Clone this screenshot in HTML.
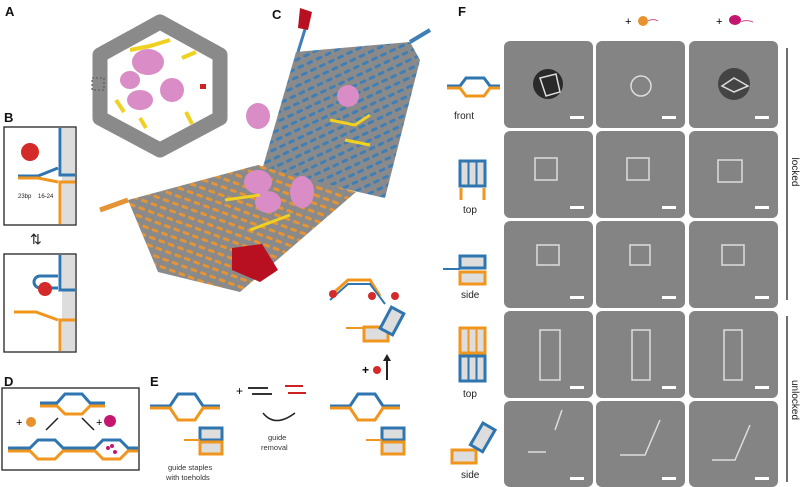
<!DOCTYPE html>
<html><head><meta charset="utf-8"><style>
html,body{margin:0;padding:0;background:#fff;}
svg{display:block;font-family:"Liberation Sans",sans-serif;}
</style></head><body>
<svg width="800" height="487" viewBox="0 0 800 487" xmlns="http://www.w3.org/2000/svg">
<defs>
<pattern id="bl" width="10" height="8" patternUnits="userSpaceOnUse" patternTransform="rotate(-25)">
<rect width="10" height="8" fill="#8a8a8a"/><rect x="1" y="2" width="7" height="3" rx="1.5" fill="#3f7fb5"/></pattern>
<pattern id="or" width="10" height="8" patternUnits="userSpaceOnUse" patternTransform="rotate(20)">
<rect width="10" height="8" fill="#8a8a8a"/><rect x="1" y="2" width="7" height="3" rx="1.5" fill="#e59435"/></pattern>
</defs>
<g font-weight="bold" font-size="13" fill="#111">
<text x="5" y="16">A</text><text x="4" y="122">B</text><text x="272" y="19">C</text>
<text x="4" y="386">D</text><text x="150" y="386">E</text><text x="458" y="16">F</text>
</g>
<!-- A -->
<polygon points="160,22 220,55 220,118 160,150 100,118 100,55" fill="none" stroke="#8a8a8a" stroke-width="15" stroke-linejoin="round"/>
<g fill="#d98cc6"><ellipse cx="148" cy="62" rx="16" ry="13"/><ellipse cx="130" cy="80" rx="10" ry="9"/><ellipse cx="172" cy="90" rx="12" ry="12"/><ellipse cx="140" cy="100" rx="13" ry="10"/></g>
<g stroke="#f0d020" stroke-width="4" fill="none"><path d="M130,50 L150,46 170,40"/><path d="M182,58 L196,52"/><path d="M116,100 L124,112"/><path d="M186,112 L192,124"/><path d="M140,118 L146,128"/></g>
<rect x="92" y="78" width="12" height="12" fill="none" stroke="#555" stroke-dasharray="2,2"/>
<rect x="200" y="84" width="6" height="5" fill="#c22"/>
<!-- B -->
<rect x="4" y="127" width="72" height="98" fill="#fff" stroke="#222" stroke-width="1.3"/>
<rect x="62" y="128" width="13" height="96" fill="#ddd"/>
<path d="M60,128 V175 H75" fill="none" stroke="#2f75b0" stroke-width="3"/>
<path d="M60,224 V182 H75" fill="none" stroke="#f0961e" stroke-width="3"/>
<path d="M18,176 H38 L58,168" fill="none" stroke="#2f75b0" stroke-width="3"/>
<path d="M18,178 H38 L58,182" fill="none" stroke="#f0961e" stroke-width="3"/>
<circle cx="30" cy="152" r="9" fill="#d42a2a"/>
<text x="18" y="198" font-size="6" fill="#222">23bp</text><text x="38" y="198" font-size="6" fill="#222">16-24</text>
<text x="30" y="244" font-size="14" fill="#222">⇅</text>
<rect x="4" y="254" width="72" height="98" fill="#fff" stroke="#222" stroke-width="1.3"/>
<rect x="62" y="255" width="13" height="96" fill="#ddd"/>
<path d="M60,255 V290 H75" fill="none" stroke="#2f75b0" stroke-width="3"/>
<path d="M60,351 V320 H75" fill="none" stroke="#f0961e" stroke-width="3"/>
<path d="M58,276 H40 a6,6 0 0 0 0,12 H58" fill="none" stroke="#2f75b0" stroke-width="3"/>
<circle cx="45" cy="289" r="7" fill="#d42a2a"/>
<path d="M14,312 H36 L58,320" fill="none" stroke="#f0961e" stroke-width="3"/>
<!-- D -->
<rect x="2" y="388" width="137" height="82" fill="#fff" stroke="#222" stroke-width="1.3"/>
<path d="M40,403 H57 L65,394 H82 L90,403 H105" fill="none" stroke="#2f75b0" stroke-width="3"/>
<path d="M40,406 H57 L65,414 H82 L90,406 H105" fill="none" stroke="#f0961e" stroke-width="3"/>
<text x="16" y="426" font-size="11">+</text><circle cx="31" cy="422" r="5" fill="#e8922e"/>
<text x="96" y="426" font-size="11">+</text><circle cx="110" cy="421" r="6" fill="#c4166f"/>
<path d="M58,418 L46,430 M82,418 L94,430" stroke="#222" stroke-width="1.5"/>
<path d="M8,448 H30 L38,440 H55 L63,448 H75" fill="none" stroke="#2f75b0" stroke-width="3"/>
<path d="M8,451 H30 L38,459 H55 L63,451 H75" fill="none" stroke="#f0961e" stroke-width="3"/>
<path d="M75,448 H95 L103,440 H120 L128,448 H138" fill="none" stroke="#2f75b0" stroke-width="3"/>
<path d="M75,451 H95 L103,459 H120 L128,451 H138" fill="none" stroke="#f0961e" stroke-width="3"/>
<g fill="#c4166f"><circle cx="108" cy="448" r="2"/><circle cx="115" cy="452" r="2"/><circle cx="112" cy="446" r="2"/></g>
<!-- C -->
<polygon points="296,52 318,50 410,42 420,60 385,198 262,170" fill="url(#bl)"/>
<polygon points="128,200 258,165 356,192 240,292 158,272" fill="url(#or)"/>
<path d="M298,52 L306,26" stroke="#3f7fb5" stroke-width="3"/><path d="M300,8 L312,12 308,30 298,28 Z" fill="#b81020"/>
<path d="M410,42 L430,30" stroke="#3f7fb5" stroke-width="4"/>
<path d="M128,200 L100,210" stroke="#e59435" stroke-width="5"/>
<g fill="#d98cc6"><ellipse cx="258" cy="116" rx="12" ry="13"/><ellipse cx="348" cy="96" rx="11" ry="11"/><ellipse cx="258" cy="182" rx="14" ry="12"/><ellipse cx="268" cy="202" rx="13" ry="11"/><ellipse cx="302" cy="192" rx="12" ry="16"/></g>
<g stroke="#f0d020" stroke-width="3" fill="none"><path d="M330,120 L355,125 370,115"/><path d="M345,140 L370,145"/><path d="M225,200 L260,195"/><path d="M250,230 L290,215"/></g>
<path d="M232,248 L262,244 278,270 260,282 232,270 Z" fill="#b81020"/>
<!-- C inset icons -->
<path d="M330,296 L348,280 L370,280 L380,296" fill="none" stroke="#f0961e" stroke-width="3"/>
<path d="M330,300 L348,284 L370,284 L385,304" fill="none" stroke="#2f75b0" stroke-width="2"/>
<circle cx="333" cy="294" r="4" fill="#d42a2a"/><circle cx="372" cy="296" r="4" fill="#d42a2a"/><circle cx="395" cy="296" r="4" fill="#d42a2a"/>
<rect x="364" y="327" width="24" height="14" fill="#ddd" stroke="#f0961e" stroke-width="3"/>
<rect x="385" y="309" width="14" height="24" fill="#ddd" stroke="#2f75b0" stroke-width="3" transform="rotate(28 392 321)"/>
<path d="M346,328 H364" stroke="#f0961e" stroke-width="2"/>
<text x="362" y="374" font-size="12" font-weight="bold">+</text><circle cx="377" cy="370" r="4" fill="#d42a2a"/>
<path d="M387,380 V358" stroke="#222" stroke-width="2"/><path d="M383,361 L387,354 391,361 Z" fill="#222"/>
<!-- E -->
<path d="M150,406 H170 L178,394 H195 L203,406 H220" fill="none" stroke="#2f75b0" stroke-width="3"/>
<path d="M150,408 H170 L178,420 H195 L203,408 H220" fill="none" stroke="#f0961e" stroke-width="3"/>
<rect x="200" y="428" width="22" height="12" fill="#ddd" stroke="#2f75b0" stroke-width="3"/>
<rect x="200" y="442" width="22" height="12" fill="#ddd" stroke="#f0961e" stroke-width="3"/>
<path d="M184,440 H200" stroke="#f0961e" stroke-width="2"/>
<text x="168" y="470" font-size="7.5" fill="#333">guide staples</text><text x="166" y="480" font-size="7.5" fill="#333">with toeholds</text>
<text x="236" y="395" font-size="12">+</text>
<path d="M248,388 H268 M252,394 H272" stroke="#333" stroke-width="2"/>
<path d="M285,386 H303 M288,393 H306" stroke="#c22" stroke-width="2"/>
<path d="M263,413 Q275,428 295,413" fill="none" stroke="#222" stroke-width="1.5"/>
<text x="268" y="440" font-size="7.5" fill="#333">guide</text><text x="261" y="450" font-size="7.5" fill="#333">removal</text>
<path d="M330,406 H350 L358,394 H375 L383,406 H400" fill="none" stroke="#2f75b0" stroke-width="3"/>
<path d="M330,408 H350 L358,420 H375 L383,408 H400" fill="none" stroke="#f0961e" stroke-width="3"/>
<rect x="382" y="428" width="22" height="12" fill="#ddd" stroke="#2f75b0" stroke-width="3"/>
<rect x="382" y="442" width="22" height="12" fill="#ddd" stroke="#f0961e" stroke-width="3"/>
<path d="M366,440 H382" stroke="#f0961e" stroke-width="2"/>
<!-- F headers -->
<text x="625" y="25" font-size="11">+</text><circle cx="643" cy="21" r="5" fill="#e8922e"/><path d="M648,21 q5,-3 10,0" stroke="#d05090" fill="none"/>
<text x="716" y="25" font-size="11">+</text><ellipse cx="735" cy="20" rx="6" ry="5" fill="#c4166f"/><path d="M741,22 q5,-3 12,0" stroke="#d05090" fill="none"/>
<!-- grid -->
<g fill="#848484">
<rect x="504" y="41" width="89" height="87" rx="6"/><rect x="596" y="41" width="89" height="87" rx="6"/><rect x="689" y="41" width="89" height="87" rx="6"/>
<rect x="504" y="131" width="89" height="87" rx="6"/><rect x="596" y="131" width="89" height="87" rx="6"/><rect x="689" y="131" width="89" height="87" rx="6"/>
<rect x="504" y="221" width="89" height="87" rx="6"/><rect x="596" y="221" width="89" height="87" rx="6"/><rect x="689" y="221" width="89" height="87" rx="6"/>
<rect x="504" y="311" width="89" height="87" rx="6"/><rect x="596" y="311" width="89" height="87" rx="6"/><rect x="689" y="311" width="89" height="87" rx="6"/>
<rect x="504" y="401" width="89" height="86" rx="6"/><rect x="596" y="401" width="89" height="86" rx="6"/><rect x="689" y="401" width="89" height="86" rx="6"/>
</g>
<g fill="#2a2a2a"><circle cx="548" cy="84" r="15"/><circle cx="734" cy="84" r="16" opacity="0.7"/></g>
<g fill="none" stroke="#ddd" stroke-width="1.5">
<polygon points="540,78 556,74 560,92 546,96"/><circle cx="641" cy="86" r="10"/><path d="M722,86 L734,78 748,86 734,92 Z"/>
<rect x="535" y="158" width="22" height="22"/><rect x="627" y="158" width="22" height="22"/><rect x="718" y="160" width="24" height="22"/>
<rect x="537" y="245" width="22" height="20"/><rect x="630" y="245" width="20" height="20"/><rect x="722" y="245" width="22" height="20"/>
<rect x="540" y="330" width="20" height="50"/><rect x="632" y="330" width="18" height="50"/><rect x="724" y="330" width="18" height="50"/>
<path d="M528,452 H546 M555,430 L562,410"/><path d="M620,455 H645 L660,420"/><path d="M712,460 H735 L750,425"/>
</g>
<g fill="#fff"><rect x="570" y="116" width="14" height="3"/><rect x="662" y="116" width="14" height="3"/><rect x="755" y="116" width="14" height="3"/>
<rect x="570" y="206" width="14" height="3"/><rect x="662" y="206" width="14" height="3"/><rect x="755" y="206" width="14" height="3"/>
<rect x="570" y="296" width="14" height="3"/><rect x="662" y="296" width="14" height="3"/><rect x="755" y="296" width="14" height="3"/>
<rect x="570" y="386" width="14" height="3"/><rect x="662" y="386" width="14" height="3"/><rect x="755" y="386" width="14" height="3"/>
<rect x="570" y="477" width="14" height="3"/><rect x="662" y="477" width="14" height="3"/><rect x="755" y="477" width="14" height="3"/></g>
<!-- row labels/icons -->
<path d="M447,86 H460 L466,78 H484 L490,86 H500" fill="none" stroke="#2f75b0" stroke-width="3"/>
<path d="M447,88 H460 L466,96 H484 L490,88 H500" fill="none" stroke="#f0961e" stroke-width="3"/>
<text x="454" y="119" font-size="10" fill="#222">front</text>
<rect x="460" y="161" width="25" height="25" fill="#ddd" stroke="#2f75b0" stroke-width="3"/>
<path d="M468.5,161 V186 M476.5,161 V186" stroke="#2f75b0" stroke-width="2"/>
<path d="M461,188 V200 M484,188 V200" stroke="#f0961e" stroke-width="3"/>
<text x="463" y="213" font-size="10" fill="#222">top</text>
<rect x="460" y="256" width="25" height="12" fill="#ddd" stroke="#2f75b0" stroke-width="3"/>
<rect x="460" y="272" width="25" height="12" fill="#ddd" stroke="#f0961e" stroke-width="3"/>
<path d="M443,269 H460" stroke="#2f75b0" stroke-width="2"/>
<text x="461" y="298" font-size="10" fill="#222">side</text>
<rect x="460" y="328" width="25" height="25" fill="#ddd" stroke="#f0961e" stroke-width="3"/>
<rect x="460" y="356" width="25" height="25" fill="#ddd" stroke="#2f75b0" stroke-width="3"/>
<path d="M468.5,328 V353 M476.5,328 V353" stroke="#f0961e" stroke-width="2"/><path d="M468.5,356 V381 M476.5,356 V381" stroke="#2f75b0" stroke-width="2"/>
<text x="463" y="397" font-size="10" fill="#222">top</text>
<rect x="452" y="450" width="24" height="13" fill="#ddd" stroke="#f0961e" stroke-width="3"/>
<rect x="476" y="425" width="14" height="25" fill="#ddd" stroke="#2f75b0" stroke-width="3" transform="rotate(30 483 437)"/>
<text x="461" y="478" font-size="10" fill="#222">side</text>
<path d="M787,48 V300 M787,316 V482" stroke="#222" stroke-width="1.3"/>
<text transform="translate(792,172) rotate(90)" font-size="10" text-anchor="middle" fill="#222">locked</text>
<text transform="translate(792,400) rotate(90)" font-size="10" text-anchor="middle" fill="#222">unlocked</text>
</svg>
</body></html>
